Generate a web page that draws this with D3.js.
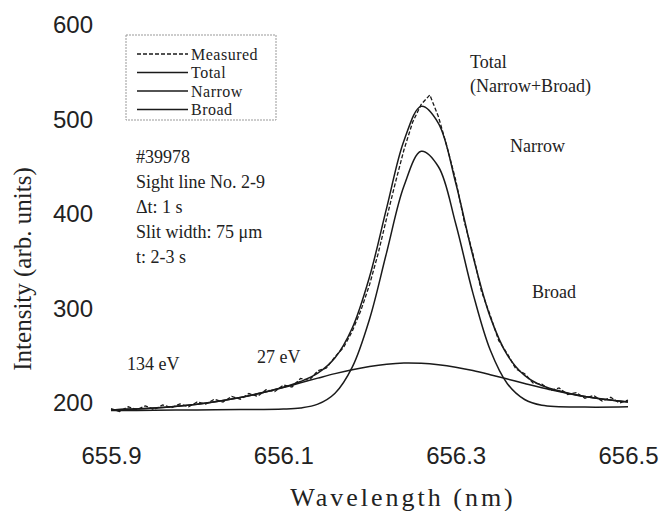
<!DOCTYPE html>
<html>
<head>
<meta charset="utf-8">
<script src="https://cdn.jsdelivr.net/npm/d3@7"></script>
<style>
  html, body { margin: 0; padding: 0; background: #fff; }
  svg { display: block; }
</style>
</head>
<body>
<svg id="chart" width="660" height="511"></svg>
<script>
// ---- data ----
const xTicks = [655.9, 656.1, 656.3, 656.5];
const yTicks = [200, 300, 400, 500, 600];

const fitWavelength = [655.90, 655.95, 656.00, 656.05, 656.10, 656.12, 656.14, 656.16, 656.18, 656.20,
  656.22, 656.24, 656.26, 656.28, 656.30, 656.32, 656.34, 656.36, 656.38, 656.40, 656.45, 656.50];
const totalValues = [192.7, 194.6, 198.7, 205.8, 216.7, 222.7, 231.5, 247.8, 279.4, 333.4,
  406.7, 477.6, 513.9, 496.0, 433.1, 355.8, 291.4, 250.7, 229.2, 218.5, 206.8, 201.0];
const narrowValues = [192.0, 192.3, 192.7, 193.0, 193.6, 194.8, 198.8, 210.4, 238.0, 288.7,
  359.7, 429.6, 466.3, 450.0, 389.9, 316.3, 256.3, 220.4, 203.7, 197.7, 195.7, 196.0];
const broadValues = [192.7, 194.6, 198.7, 205.8, 216.4, 221.4, 226.3, 231.1, 235.3, 238.7,
  241.1, 242.3, 242.0, 240.5, 237.9, 234.3, 230.0, 225.4, 220.7, 216.2, 206.8, 201.0];

const measWavelength = [655.90, 655.91, 655.92, 655.93, 655.94, 655.95, 655.96, 655.97, 655.98, 655.99,
  656.00, 656.01, 656.02, 656.03, 656.04, 656.05, 656.06, 656.07, 656.08, 656.09,
  656.10, 656.11, 656.12, 656.13, 656.14, 656.15, 656.16, 656.17, 656.18, 656.19,
  656.20, 656.21, 656.22, 656.23, 656.24, 656.25, 656.26, 656.27, 656.28, 656.29,
  656.30, 656.31, 656.32, 656.33, 656.34, 656.35, 656.36, 656.37, 656.38, 656.39,
  656.40, 656.41, 656.42, 656.43, 656.44, 656.45, 656.46, 656.47, 656.48, 656.49, 656.50];
const measuredValues = [194, 191, 196, 193, 197, 193, 198, 195, 199, 196,
  201, 199, 204, 201, 207, 204, 210, 207, 214, 212,
  219, 217, 226, 224, 234, 237, 249, 259, 276, 298,
  325, 358, 396, 433, 468, 497, 516, 526, 503, 471,
  436, 392, 358, 318, 293, 266, 252, 236, 231, 221,
  220, 213, 216, 209, 211, 205, 208, 202, 206, 200, 203];

const legendLabels = ["Measured", "Total", "Narrow", "Broad"];
const infoLines = ["#39978", "Sight line No. 2-9", "\u0394t: 1 s", "Slit width: 75 \u03bcm", "t: 2-3 s"];

// ---- drawing ----
const svg = d3.select("#chart");
const x = d3.scaleLinear().domain([655.9, 656.5]).range([111, 628]);
const y = d3.scaleLinear().domain([200, 600]).range([403, 25]);

const serif = "'Liberation Serif', 'Times New Roman', serif";
const sans = "'Liberation Sans', Arial, sans-serif";

// axes (labels only, as in the reference)
const yAxis = svg.append("g").attr("transform", "translate(93,0)")
  .call(d3.axisLeft(y).tickValues(yTicks).tickSize(0).tickPadding(0).tickFormat(d3.format("d")));
yAxis.select(".domain").remove();
yAxis.selectAll("text").attr("font-family", sans).attr("font-size", 24).attr("fill", "#222");

const xAxis = svg.append("g").attr("transform", "translate(0,447)")
  .call(d3.axisBottom(x).tickValues(xTicks).tickSize(0).tickPadding(0).tickFormat(d3.format(".1f")));
xAxis.select(".domain").remove();
xAxis.selectAll("text").attr("font-family", sans).attr("font-size", 24).attr("fill", "#222");

// axis titles
svg.append("text")
  .attr("transform", "translate(31,269) rotate(-90)")
  .attr("text-anchor", "middle")
  .attr("font-family", serif).attr("font-size", 25).attr("fill", "#222")
  .text("Intensity (arb. units)");
svg.append("text")
  .attr("x", 403).attr("y", 506)
  .attr("text-anchor", "middle")
  .attr("font-family", serif).attr("font-size", 26).attr("letter-spacing", 3).attr("fill", "#222")
  .text("Wavelength (nm)");

// curves
const fitLine = vals => d3.line()
  .x((d, i) => x(fitWavelength[i]))
  .y(d => y(d))
  .curve(d3.curveCatmullRom)(vals);

[broadValues, narrowValues, totalValues].forEach(vals => {
  svg.append("path").attr("d", fitLine(vals))
    .attr("fill", "none").attr("stroke", "#1a1a1a").attr("stroke-width", 1.5);
});

const measLine = d3.line()
  .x((d, i) => x(measWavelength[i]))
  .y(d => y(d));
svg.append("path").attr("d", measLine(measuredValues))
  .attr("fill", "none").attr("stroke", "#1a1a1a").attr("stroke-width", 1.3)
  .attr("stroke-dasharray", "4,2");

// legend
const lg = svg.append("g");
lg.append("rect").attr("x", 126).attr("y", 35).attr("width", 150).attr("height", 85)
  .attr("fill", "none").attr("stroke", "#999").attr("stroke-width", 1).attr("stroke-dasharray", "2,1");
legendLabels.forEach((lab, i) => {
  const yy = 54 + i * 18.5;
  lg.append("line").attr("x1", 137).attr("x2", 188).attr("y1", yy).attr("y2", yy)
    .attr("stroke", "#1a1a1a").attr("stroke-width", 1.3)
    .attr("stroke-dasharray", i === 0 ? "4,2" : null);
  lg.append("text").attr("x", 191).attr("y", yy).attr("dy", "0.35em")
    .attr("font-family", serif).attr("font-size", 16).attr("letter-spacing", 0.5).attr("fill", "#222").text(lab);
});

// info block
infoLines.forEach((t, i) => {
  svg.append("text").attr("x", 136).attr("y", 157 + i * 25).attr("dy", "0.35em")
    .attr("font-family", serif).attr("font-size", 18).attr("fill", "#222").text(t);
});

// annotations
const notes = [
  {t: "Total", x: 470, y: 62},
  {t: "(Narrow+Broad)", x: 470, y: 86},
  {t: "Narrow", x: 510, y: 146},
  {t: "Broad", x: 532, y: 292},
  {t: "134 eV", x: 127, y: 364},
  {t: "27 eV", x: 257, y: 357}
];
notes.forEach(n => {
  svg.append("text").attr("x", n.x).attr("y", n.y).attr("dy", "0.35em")
    .attr("font-family", serif).attr("font-size", 18).attr("fill", "#222").text(n.t);
});
</script>
</body>
</html>
